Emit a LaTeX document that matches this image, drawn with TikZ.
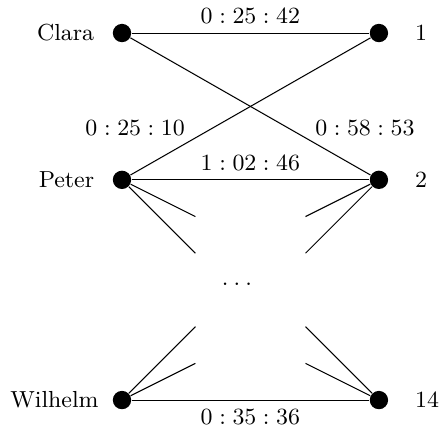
\documentclass[tikz,border=0pt]{standalone}
\begin{document}
\begin{tikzpicture}[
  font=\fontsize{9}{11}\selectfont,
  dot/.style={circle,fill=black,inner sep=0pt,minimum size=0.25cm},
  lname/.style={anchor=east},
  rname/.style={anchor=west},
]
\useasboundingbox (-1.662,-0.463) rectangle (4.332,5.45);

% people on the left, places on the right
\node[dot] (clara) at (0,5) {};
\node[dot] (peter) at (0,3) {};
\node[dot] (wilhelm) at (0,0) {};
\node[dot] (r1) at (3.5,5) {};
\node[dot] (r2) at (3.5,3) {};
\node[dot] (r14) at (3.5,0) {};

\node[lname] (tclara) at (-0.255,5) {Clara};
\node[lname] (tpeter) at (-0.255,3) {Peter};
\node[lname] (twilhelm) at (-0.195,0) {Wilhelm};
\node[rname] (t1) at (3.87,5) {1};
\node[rname] (t2) at (3.87,3) {2};
\node[rname] (t14) at (3.87,0) {14};

% assignments with their times
\draw (clara) -- node[above] (e1) {$0:25:42$} (r1);
\draw (peter) -- node[above] (e2) {$1:02:46$} (r2);
\draw (wilhelm) -- node[below] (e3) {$0:35:36$} (r14);
\draw (clara) -- (r2);
\draw (peter) -- (r1);
\node (e4) at (0.18,3.70) {$0:25:10$};
\node (e5) at (3.31,3.70) {$0:58:53$};

% edges leading towards the omitted part
\coordinate (pa) at (1,2.5);
\coordinate (pb) at (1,2);
\coordinate (qa) at (2.5,2.5);
\coordinate (qb) at (2.5,2);
\coordinate (wa) at (1,1);
\coordinate (wb) at (1,0.5);
\coordinate (za) at (2.5,1);
\coordinate (zb) at (2.5,0.5);
\draw (peter) -- (pa);
\draw (peter) -- (pb);
\draw (r2) -- (qa);
\draw (r2) -- (qb);
\draw (wilhelm) -- (wa);
\draw (wilhelm) -- (wb);
\draw (r14) -- (za);
\draw (r14) -- (zb);

\node (dots) at (1.567,1.58) {.\kern2pt.\kern2pt.};
\end{tikzpicture}
\end{document}
